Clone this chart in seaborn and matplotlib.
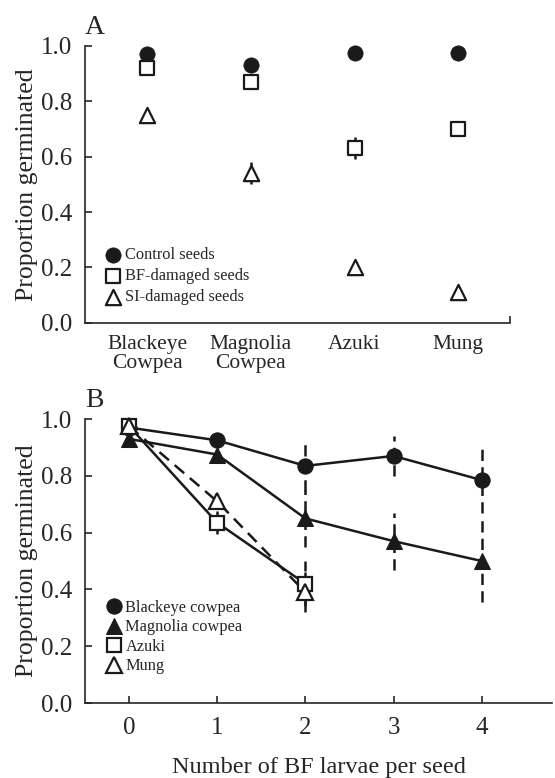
import numpy as np
import pandas as pd
import seaborn as sns
import matplotlib.pyplot as plt

# %% Data ------------------------------------------------
# Panel A: germination by seed type and damage
species_a = ['Blackeye\nCowpea', 'Magnolia\nCowpea', 'Azuki', 'Mung']
control = [0.97, 0.93, 0.975, 0.975]
bf_damaged = [0.92, 0.87, 0.63, 0.70]
bf_err = [0.0, 0.0, 0.04, 0.0]
si_damaged = [0.75, 0.54, 0.20, 0.11]
si_err = [0.0, 0.04, 0.0, 0.0]

# Panel B: germination vs number of BF larvae
larvae = [0, 1, 2, 3, 4]
blackeye = [0.97, 0.925, 0.835, 0.87, 0.785]
blackeye_err = [0.0, 0.0, 0.09, 0.07, 0.115]
magnolia = [0.93, 0.875, 0.65, 0.57, 0.50]
magnolia_err = [0.0, 0.0, 0.10, 0.10, 0.145]
larvae_short = [0, 1, 2]
azuki = [0.975, 0.635, 0.42]
azuki_err = [0.0, 0.04, 0.08]
mung = [0.975, 0.71, 0.39]
mung_err = [0.0, 0.0, 0.07]

# %% Style -----------------------------------------------
sns.set_style('ticks')
plt.rcParams['font.family'] = ['Liberation Serif', 'DejaVu Serif']
plt.rcParams['axes.linewidth'] = 1.2
plt.rcParams['xtick.direction'] = 'in'
plt.rcParams['ytick.direction'] = 'in'

fig = plt.figure(figsize=(5.55, 7.78), dpi=100)
ax_a = fig.add_axes([0.153, 0.585, 0.766, 0.356])
ax_b = fig.add_axes([0.153, 0.0964, 0.842, 0.365])

ms = 11
mew = 1.6
tick_fs = 18
ylab_fs = 18.5
yticks = [0, 0.2, 0.4, 0.6, 0.8, 1.0]
ytick_labels = ['0.0', '0.2', '0.4', '0.6', '0.8', '1.0']


def dashed_err(ax, x, y, e):
    eb = ax.errorbar(x, y, yerr=e, fmt='none', ecolor='#1a1a1a',
                     elinewidth=1.8, capsize=0, zorder=1)
    for lc in eb[2]:
        lc.set_linestyle((0, (4.5, 2.5)))
        lc.set_clip_on(False)


# %% Panel A ---------------------------------------------
pos = np.arange(len(species_a))
df_a = pd.DataFrame({'pos': pos, 'control': control, 'bf': bf_damaged, 'si': si_damaged})

dashed_err(ax_a, pos, bf_damaged, bf_err)
dashed_err(ax_a, pos, si_damaged, si_err)
sns.scatterplot(data=df_a, x='pos', y='control', ax=ax_a, marker='o', s=ms ** 2,
                color='#1a1a1a', edgecolor='#1a1a1a', linewidth=0.5,
                label='Control seeds', zorder=3, clip_on=False)
sns.scatterplot(data=df_a, x='pos', y='bf', ax=ax_a, marker='s', s=(ms - 1) ** 2,
                facecolor='white', edgecolor='#1a1a1a', linewidth=mew,
                label='BF-damaged seeds', zorder=4, clip_on=False)
sns.scatterplot(data=df_a, x='pos', y='si', ax=ax_a, marker='^', s=ms ** 2,
                facecolor='white', edgecolor='#1a1a1a', linewidth=mew,
                label='SI-damaged seeds', zorder=4, clip_on=False)

ax_a.set_xlim(-0.6, 3.5)
ax_a.set_ylim(0, 1.0)
ax_a.set_xticks(pos)
ax_a.set_xticklabels(species_a, fontsize=15.5, linespacing=0.95)
ax_a.tick_params(axis='x', length=0, pad=9)
ax_a.set_xticks([3.5], minor=True)
ax_a.tick_params(axis='x', which='minor', length=5, width=1.2)
ax_a.set_yticks(yticks)
ax_a.set_yticklabels(ytick_labels, fontsize=tick_fs)
ax_a.tick_params(axis='y', length=5, width=1.2, pad=9)
ax_a.set_xlabel('')
ax_a.set_ylabel('Proportion germinated', fontsize=ylab_fs, labelpad=2)
ax_a.text(0.0, 1.02, 'A', transform=ax_a.transAxes, fontsize=20, va='bottom', ha='left')
ax_a.legend(loc='lower left', bbox_to_anchor=(0.02, 0.022), frameon=False,
            fontsize=11.8, handletextpad=0.2, labelspacing=0.32, borderpad=0.2,
            handlelength=1.0)
sns.despine(ax=ax_a)

# %% Panel B ---------------------------------------------
dashed_err(ax_b, larvae, blackeye, blackeye_err)
dashed_err(ax_b, larvae, magnolia, magnolia_err)
dashed_err(ax_b, larvae_short, azuki, azuki_err)
dashed_err(ax_b, larvae_short, mung, mung_err)

sns.lineplot(x=larvae, y=blackeye, ax=ax_b, color='#1a1a1a', linewidth=1.8,
             marker='o', markersize=ms, markeredgecolor='#1a1a1a',
             label='Blackeye cowpea', zorder=3, clip_on=False)
sns.lineplot(x=larvae, y=magnolia, ax=ax_b, color='#1a1a1a', linewidth=1.8,
             marker='^', markersize=ms, markeredgecolor='#1a1a1a',
             label='Magnolia cowpea', zorder=3, clip_on=False)
sns.lineplot(x=larvae_short, y=azuki, ax=ax_b, color='#1a1a1a', linewidth=1.8,
             marker='s', markersize=ms - 1, markerfacecolor='white',
             markeredgecolor='#1a1a1a', markeredgewidth=mew,
             label='Azuki', zorder=4, clip_on=False)
sns.lineplot(x=larvae_short, y=mung, ax=ax_b, color='#1a1a1a', linewidth=1.8,
             linestyle=(0, (5, 3)), marker='^', markersize=ms, markerfacecolor='white',
             markeredgecolor='#1a1a1a', markeredgewidth=mew,
             label='Mung', zorder=4, clip_on=False)

ax_b.set_xlim(-0.5, 4.8)
ax_b.set_ylim(0, 1.0)
ax_b.set_xticks(larvae)
ax_b.set_xticklabels([str(v) for v in larvae], fontsize=tick_fs)
ax_b.tick_params(axis='x', length=5, width=1.2, pad=10)
ax_b.set_yticks(yticks)
ax_b.set_yticklabels(ytick_labels, fontsize=tick_fs)
ax_b.tick_params(axis='y', length=5, width=1.2, pad=9)
ax_b.set_xlabel('Number of BF larvae per seed', fontsize=17.5, labelpad=13)
ax_b.set_ylabel('Proportion germinated', fontsize=ylab_fs, labelpad=2)
ax_b.text(0.0, 1.02, 'B', transform=ax_b.transAxes, fontsize=20, va='bottom', ha='left')
leg = ax_b.legend(loc='lower left', bbox_to_anchor=(0.02, 0.06), frameon=False,
                  fontsize=11.8, handletextpad=0.2, labelspacing=0.22, borderpad=0.2,
                  handlelength=1.0)
for h in leg.legend_handles:
    h.set_linestyle('none')
sns.despine(ax=ax_b)

fig.savefig('out.png', dpi=100)
